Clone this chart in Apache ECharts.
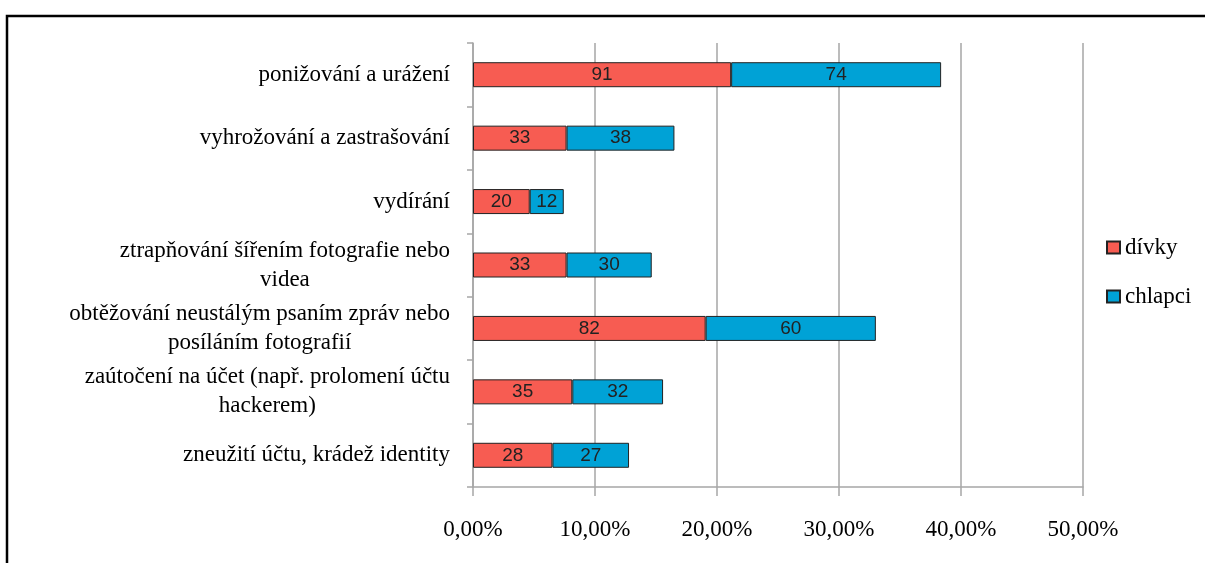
<!DOCTYPE html>
<html>
<head>
<meta charset="utf-8">
<title>Kyberšikana - dívky a chlapci</title>
<script src="https://cdn.jsdelivr.net/npm/echarts@6/dist/echarts.min.js"></script>
<style>
  html, body { margin: 0; padding: 0; background: #fff; }
  #chart { width: 1205px; height: 563px; }
</style>
</head>
<body>
<div id="chart"></div>
<script type="text/javascript">
// kategorie (osa y, shora dolů)
var categories = [
    'ponižování a urážení',
    'vyhrožování a zastrašování',
    'vydírání',
    'ztrapňování šířením fotografie nebo\nvidea',
    'obtěžování neustálým psaním zpráv nebo\nposíláním fotografií',
    'zaútočení na účet (např. prolomení účtu\nhackerem)',
    'zneužití účtu, krádež identity'
];
// podíl v % (délka pruhu)
var divkyPct   = [21.16, 7.67, 4.65, 7.67, 19.07, 8.14, 6.51];
var chlapciPct = [17.21, 8.84, 2.79, 6.98, 13.95, 7.44, 6.28];
// počty (popisky v pruzích)
var divkyCount   = [91, 33, 20, 33, 82, 35, 28];
var chlapciCount = [74, 38, 12, 30, 60, 32, 27];
var xTicks = [0, 10, 20, 30, 40, 50];

var serif = "'Liberation Serif', 'Times New Roman', serif";
var sans = "'Liberation Sans', Arial, sans-serif";
var gridColor = '#a6a6a6';

var myChart = echarts.init(document.getElementById('chart'));

function barLabel(counts) {
    return {
        show: true,
        position: 'inside',
        fontFamily: sans,
        fontSize: 19,
        color: '#222',
        formatter: function (p) { return counts[p.dataIndex]; }
    };
}

var option = {
    animation: false,
    backgroundColor: '#fff',
    graphic: [{
        type: 'rect',
        shape: { x: 7, y: 16, width: 1400, height: 700 },
        style: { fill: 'none', stroke: '#000', lineWidth: 2.5 }
    }],
    grid: { left: 473, right: 122, top: 43, bottom: 76 },
    legend: {
        orient: 'vertical',
        left: 1101,
        top: 231,
        itemWidth: 13,
        itemHeight: 12,
        itemGap: 26,
        icon: 'rect',
        textStyle: { fontFamily: serif, fontSize: 23, color: '#000' },
        data: ['dívky', 'chlapci']
    },
    xAxis: {
        type: 'value',
        min: xTicks[0],
        max: xTicks[xTicks.length - 1],
        interval: 10,
        axisLine: { show: true, lineStyle: { color: gridColor, width: 1.5 } },
        axisTick: { show: true, length: 9, lineStyle: { color: gridColor, width: 1.5 } },
        splitLine: { show: true, lineStyle: { color: gridColor, width: 1.5 } },
        axisLabel: {
            margin: 31,
            fontFamily: serif,
            fontSize: 23,
            color: '#000',
            formatter: function (v) { return v.toFixed(2).replace('.', ',') + '%'; }
        }
    },
    yAxis: {
        type: 'category',
        inverse: true,
        data: categories,
        axisLine: { show: true, lineStyle: { color: gridColor, width: 1.5 } },
        axisTick: { show: true, length: 6, lineStyle: { color: gridColor, width: 1.5 } },
        axisLabel: {
            margin: 23,
            fontFamily: serif,
            fontSize: 23,
            lineHeight: 29,
            color: '#000',
            align: 'right',
            formatter: function (v) {
                var lines = v.split('\n');
                if (lines.length === 1) return v;
                return lines.map(function (l) { return '{c|' + l + '}'; }).join('\n');
            },
            rich: {
                c: { align: 'center', fontFamily: serif, fontSize: 23, lineHeight: 29, color: '#000' }
            }
        }
    },
    series: [
        {
            name: 'dívky',
            type: 'bar',
            stack: 'total',
            barWidth: 25,
            data: divkyPct,
            itemStyle: { color: '#f75c52', borderColor: '#222', borderWidth: 1 },
            label: barLabel(divkyCount)
        },
        {
            name: 'chlapci',
            type: 'bar',
            stack: 'total',
            barWidth: 25,
            data: chlapciPct,
            itemStyle: { color: '#00a2d6', borderColor: '#222', borderWidth: 1 },
            label: barLabel(chlapciCount)
        }
    ]
};

myChart.setOption(option);
</script>
</body>
</html>
